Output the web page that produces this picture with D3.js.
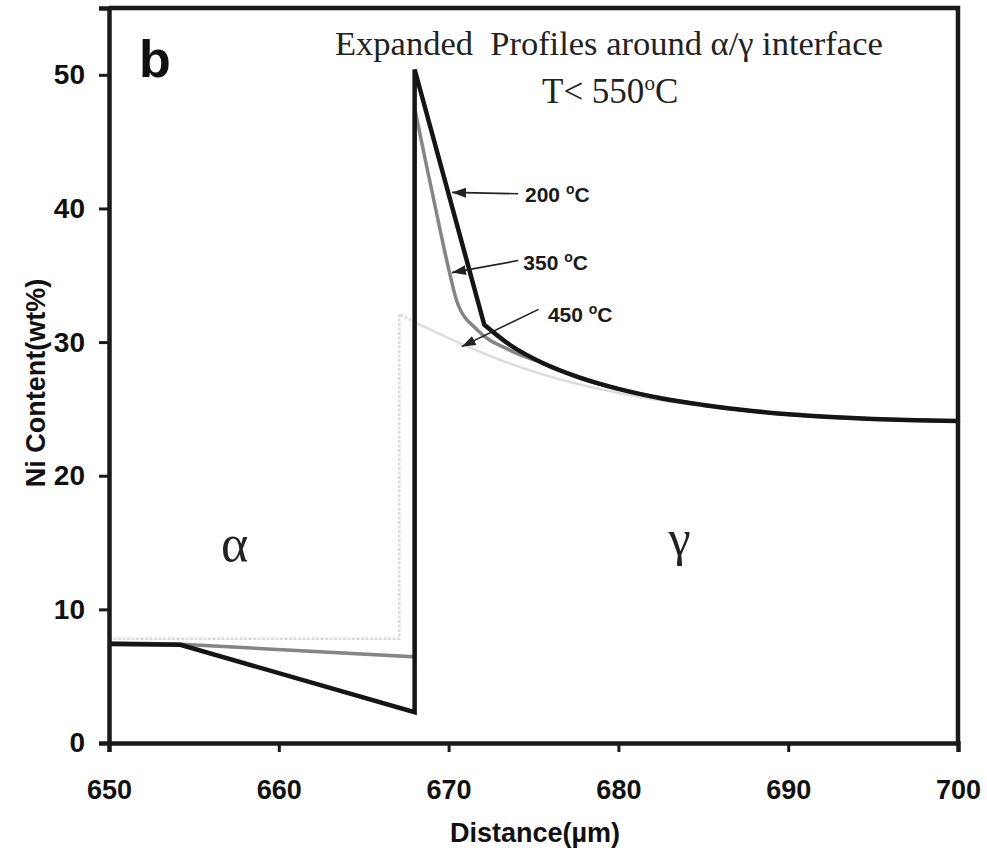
<!DOCTYPE html>
<html>
<head>
<meta charset="utf-8">
<script src="https://cdn.jsdelivr.net/npm/d3@7/dist/d3.min.js"></script>
<style>
  html, body { margin: 0; padding: 0; background: #fff; }
  svg { display: block; }
</style>
</head>
<body>
<svg id="chart" width="987" height="855"></svg>
<script>
// Ni content profiles across the alpha/gamma interface (T < 550 °C)

// x axis ticks (µm) and y axis ticks (wt%)
const xTicks = [650, 660, 670, 680, 690, 700];
const yTicks = [0, 10, 20, 30, 40, 50];

// 200 °C: straight segments (alpha side, jump, steep drop), then smooth gamma tail
const dist200Lin = [650, 654.2, 668.0, 668.0, 672.1];
const ni200Lin   = [7.4, 7.35, 2.3, 50.4, 31.3];
const dist200Tail = [672.1, 673.6, 675.6, 677.6, 680, 682.5, 685, 687.5, 690, 692.5, 695, 697.5, 700];
const ni200Tail   = [31.3, 29.8, 28.4, 27.4, 26.5, 25.8, 25.3, 24.9, 24.6, 24.4, 24.25, 24.15, 24.1];

// 350 °C
const dist350Lin = [650, 654, 668.0, 668.0];
const ni350Lin   = [7.5, 7.4, 6.45, 47.5];
const dist350Tail = [668.0, 668.6, 669.4, 670.0, 670.5, 671.7, 673.6, 675.6, 678, 680, 685, 690, 695, 700];
const ni350Tail   = [47.5, 43.8, 39.0, 35.5, 33.0, 30.9, 29.4, 28.4, 27.2, 26.5, 25.3, 24.6, 24.25, 24.1];

// 450 °C
const dist450Lin = [650, 667.1, 667.1, 668.0];
const ni450Lin   = [7.8, 7.8, 32.1, 31.5];
const dist450Tail = [668.0, 670.7, 673.6, 676.6, 680, 685, 690, 695, 700];
const ni450Tail   = [31.5, 29.9, 28.4, 27.2, 26.2, 25.2, 24.55, 24.2, 24.05];

// temperature call-outs: label anchor, arrow start and arrow tip (data units)
const calloutTemps = ["200", "350", "450"];
const calloutLabelX = [674.5, 674.4, 675.85];
const calloutLabelY = [40.5, 35.4, 31.5];
const calloutFromX = [674.1, 674.1, 675.3];
const calloutFromY = [41.1, 36.1, 32.45];
const calloutToX = [670.2, 670.2, 670.77];
const calloutToY = [41.2, 35.2, 29.66];

const svg = d3.select("#chart");
const margin = { left: 109, right: 29, top: 8, bottom: 112 };
const W = 987, H = 855;

const x = d3.scaleLinear().domain([650, 700]).range([margin.left, W - margin.right]);
const y = d3.scaleLinear().domain([0, 55]).range([H - margin.bottom, margin.top]);

const zip = (xs, ys) => xs.map((v, i) => [v, ys[i]]);
const lin = d3.line().x(d => x(d[0])).y(d => y(d[1])).curve(d3.curveLinear);
const smooth = d3.line().x(d => x(d[0])).y(d => y(d[1])).curve(d3.curveMonotoneX);

// arrowhead
svg.append("defs").append("marker")
  .attr("id", "head")
  .attr("markerUnits", "userSpaceOnUse")
  .attr("viewBox", "0 0 14 10")
  .attr("refX", 14).attr("refY", 5)
  .attr("markerWidth", 14).attr("markerHeight", 10)
  .attr("orient", "auto")
  .append("path").attr("d", "M0,0 L14,5 L0,10 Z").attr("fill", "#222");

// curves
const series = [
  { lin: zip(dist450Lin, ni450Lin), tail: zip(dist450Tail, ni450Tail), color: "#dcdcdc", w: 2.5, dash: "3,1.5" },
  { lin: zip(dist350Lin, ni350Lin), tail: zip(dist350Tail, ni350Tail), color: "#858585", w: 3.5, dash: null },
  { lin: zip(dist200Lin, ni200Lin), tail: zip(dist200Tail, ni200Tail), color: "#151515", w: 4.5, dash: null }
];
const gCurves = svg.append("g");
series.forEach(s => {
  gCurves.append("path").attr("d", lin(s.lin))
    .attr("fill", "none").attr("stroke", s.color).attr("stroke-width", s.w)
    .attr("stroke-linejoin", "miter").attr("stroke-dasharray", s.dash);
  gCurves.append("path").attr("d", smooth(s.tail))
    .attr("fill", "none").attr("stroke", s.color).attr("stroke-width", s.w)
    .attr("stroke-linecap", "round").attr("stroke-dasharray", s.dash);
});

// frame (top and right)
svg.append("path")
  .attr("d", `M${x(650)},${y(55)} H${x(700)} V${y(0)}`)
  .attr("fill", "none").attr("stroke", "#1a1a1a").attr("stroke-width", 4.5);

// axes
const xAxis = d3.axisBottom(x).tickValues(xTicks).tickSize(9).tickPadding(28).tickFormat(d3.format("d"));
const yAxis = d3.axisLeft(y).tickValues(yTicks).tickSize(10).tickPadding(14).tickFormat(d3.format("d"));

const gx = svg.append("g").attr("transform", `translate(0,${y(0)})`).call(xAxis);
const gy = svg.append("g").attr("transform", `translate(${x(650)},0)`).call(yAxis);
[gx, gy].forEach(g => {
  g.select(".domain").attr("stroke", "#1a1a1a").attr("stroke-width", 4.5);
  g.selectAll(".tick line").attr("stroke", "#1a1a1a").attr("stroke-width", 3);
  g.selectAll(".tick text")
    .attr("fill", "#111")
    .style("font-family", "'Liberation Sans', Arial, sans-serif")
    .style("font-weight", "bold");
});
gx.selectAll(".tick text").style("font-size", "27px");
gy.selectAll(".tick text").style("font-size", "28px");

// axis titles
const sans = "'Liberation Sans', Arial, sans-serif";
svg.append("text")
  .attr("x", 535).attr("y", 842)
  .attr("text-anchor", "middle")
  .style("font-family", sans).style("font-weight", "bold").style("font-size", "27px")
  .attr("fill", "#111")
  .text("Distance(\u00b5m)");
svg.append("text")
  .attr("transform", "translate(45,383) rotate(-90)")
  .attr("text-anchor", "middle")
  .style("font-family", sans).style("font-weight", "bold").style("font-size", "27px")
  .attr("fill", "#111")
  .text("Ni Content(wt%)");

// panel letter
svg.append("text")
  .attr("x", 139).attr("y", 77)
  .style("font-family", sans).style("font-weight", "bold").style("font-size", "52px")
  .attr("fill", "#111")
  .text("b");

// headings
const serif = "'Liberation Serif', 'Times New Roman', serif";
svg.append("text")
  .attr("x", 335).attr("y", 55)
  .style("font-family", serif).style("font-size", "34.5px").attr("fill", "#222")
  .attr("xml:space", "preserve")
  .text("Expanded  Profiles around \u03b1/\u03b3 interface");
const t2 = svg.append("text")
  .attr("x", 542).attr("y", 103)
  .style("font-family", serif).style("font-size", "35px").attr("fill", "#222");
t2.append("tspan").text("T< 550");
t2.append("tspan").attr("dy", -13).style("font-size", "21px").text("o");
t2.append("tspan").attr("dy", 13).text("C");

// phase labels
svg.append("text")
  .attr("x", x(657.4)).attr("y", y(13.6))
  .attr("text-anchor", "middle")
  .style("font-family", serif).style("font-size", "52px").attr("fill", "#222")
  .text("\u03b1");
svg.append("text")
  .attr("x", x(683.6)).attr("y", y(14.1))
  .attr("text-anchor", "middle")
  .style("font-family", serif).style("font-size", "50px").attr("fill", "#222")
  .text("\u03b3");

// temperature call-outs
calloutTemps.forEach((t, i) => {
  svg.append("line")
    .attr("x1", x(calloutFromX[i])).attr("y1", y(calloutFromY[i]))
    .attr("x2", x(calloutToX[i])).attr("y2", y(calloutToY[i]))
    .attr("stroke", "#222").attr("stroke-width", 1.6)
    .attr("marker-end", "url(#head)");
  const lbl = svg.append("text")
    .attr("x", x(calloutLabelX[i])).attr("y", y(calloutLabelY[i]))
    .style("font-family", sans).style("font-weight", "bold").style("font-size", "21px")
    .attr("fill", "#1a1a1a");
  lbl.append("tspan").text(t + " ");
  lbl.append("tspan").attr("dy", -8).style("font-size", "14px").text("o");
  lbl.append("tspan").attr("dy", 8).text("C");
});
</script>
</body>
</html>
